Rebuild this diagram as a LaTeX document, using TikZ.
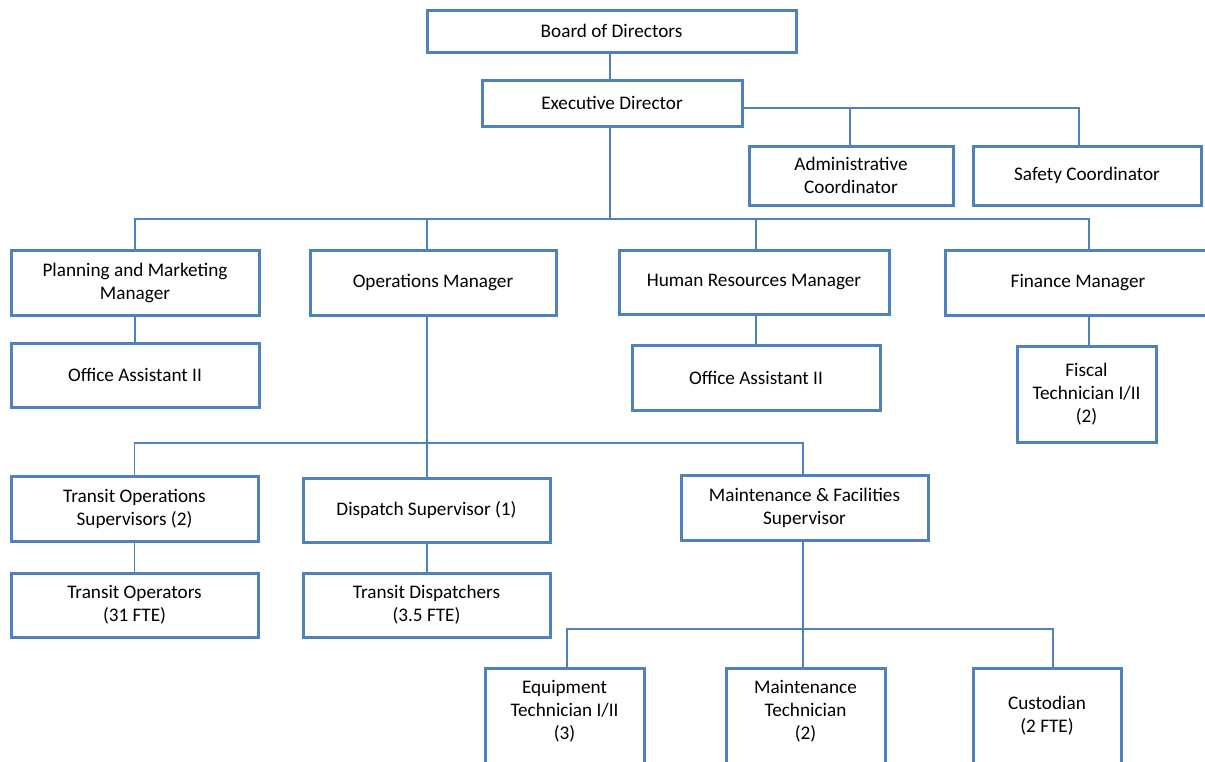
\documentclass[tikz,border=0pt]{standalone}
\usepackage{fontspec}
\setmainfont{Carlito}
\definecolor{obl}{HTML}{4F81BD}
\tikzset{
  box/.style={draw=obl, line width=3pt, fill=white, inner sep=0pt, align=center,
    font=\fontsize{19.2}{23}\selectfont, text=black},
  conn/.style={draw=obl, line width=1.3pt},
  txt/.style={inner sep=0pt, align=center, font=\fontsize{19.2}{23}\selectfont, text=black},
}
\begin{document}
\begin{tikzpicture}[x=1pt,y=-1pt]
\useasboundingbox (0,0) rectangle (1205,761);
\clip (0,0) rectangle (1205,761);
\fill[white] (0,0) rectangle (1205,761);

% level 0-1
\node[box, minimum width=369, minimum height=42] (board) at (611.5,31) {Board of Directors};
\node[box, minimum width=260, minimum height=46] (exec) at (612,103) {Executive Director};
\node[box, minimum width=204, minimum height=59] (admin) at (851,175.5) {Administrative\\Coordinator};
\node[box, minimum width=228, minimum height=59] (safety) at (1087,175.5) {Safety Coordinator};

% managers
\node[box, minimum width=248, minimum height=65] (plan) at (135,282.5) {Planning and Marketing\\Manager};
\node[box, minimum width=246, minimum height=65] (ops) at (433,282.5) {Operations Manager};
\node[box, minimum width=270, minimum height=64] (hr) at (754,282) {Human Resources Manager};
\node[box, minimum width=266, minimum height=65] (fin) at (1078,282.5) {Finance Manager};

\node[box, minimum width=248, minimum height=64] (oa1) at (135,375) {Office Assistant II};
\node[box, minimum width=248, minimum height=65] (oa2) at (756,377.5) {Office Assistant II};
\node[box, minimum width=139, minimum height=96] (fiscal) at (1086.5,394) {Fiscal\\Technician I/II\\(2)};

% supervisors
\node[box, minimum width=247, minimum height=65] (tos) at (134.5,508.5) {Transit Operations\\Supervisors (2)};
\node[box, minimum width=247, minimum height=64] (disp) at (426.5,510) {Dispatch Supervisor (1)};
\node[box, minimum width=247, minimum height=65] (mfs) at (804.5,507.5) {Maintenance \& Facilities\\Supervisor};

\node[box, minimum width=247, minimum height=64] (top) at (134.5,605) {Transit Operators\\(31 FTE)};
\node[box, minimum width=247, minimum height=64] (tdisp) at (426.5,605) {Transit Dispatchers\\(3.5 FTE)};

% technicians (cut off at the bottom)
\node[box, minimum width=159, minimum height=120, anchor=north] (equip) at (564.5,667) {};
\node[box, minimum width=159, minimum height=120, anchor=north] (mtech) at (805.5,667) {};
\node[box, minimum width=148, minimum height=120, anchor=north] (cust) at (1047,667) {};
\node[txt] (equipT) at (564.5,711) {Equipment\\Technician I/II\\(3)};
\node[txt] (mtechT) at (805.5,711) {Maintenance\\Technician\\(2)};
\node[txt] (custT) at (1047,716) {Custodian\\(2 FTE)};

% connectors
\draw[conn] (610,0 |- board.south) -- (610,0 |- exec.north);
\draw[conn] (exec.east |- 0,108) -- (1079,108) -- (1079,0 |- safety.north);
\draw[conn] (850,108) -- (850,0 |- admin.north);

\coordinate (bus1) at (610,219);
\draw[conn] (610,0 |- exec.south) -- (bus1);
\draw[conn] (plan.north) -- (plan.north |- bus1) -- (1089,0 |- bus1) -- (1089,0 |- fin.north);
\draw[conn] (427,0 |- ops.north) -- (427,0 |- bus1);
\draw[conn] (756,0 |- hr.north) -- (756,0 |- bus1);

\draw[conn] (plan.south) -- (oa1.north);
\draw[conn] (756,0 |- hr.south) -- (oa2.north);
\draw[conn] (1089,0 |- fin.south) -- (1089,0 |- fiscal.north);

\coordinate (bus2) at (427,443);
\draw[conn] (427,0 |- ops.south) -- (427,0 |- disp.north);
\draw[conn] (tos.north) -- (tos.north |- bus2) -- (803,0 |- bus2) -- (803,0 |- mfs.north);

\draw[conn] (tos.south) -- (top.north);
\draw[conn] (427,0 |- disp.south) -- (427,0 |- tdisp.north);

\coordinate (bus3) at (803,629);
\draw[conn] (803,0 |- mfs.south) -- (803,0 |- mtech.north);
\draw[conn] (567,0 |- equip.north) -- (567,0 |- bus3) -- (1053,0 |- bus3) -- (1053,0 |- cust.north);
\end{tikzpicture}
\end{document}
